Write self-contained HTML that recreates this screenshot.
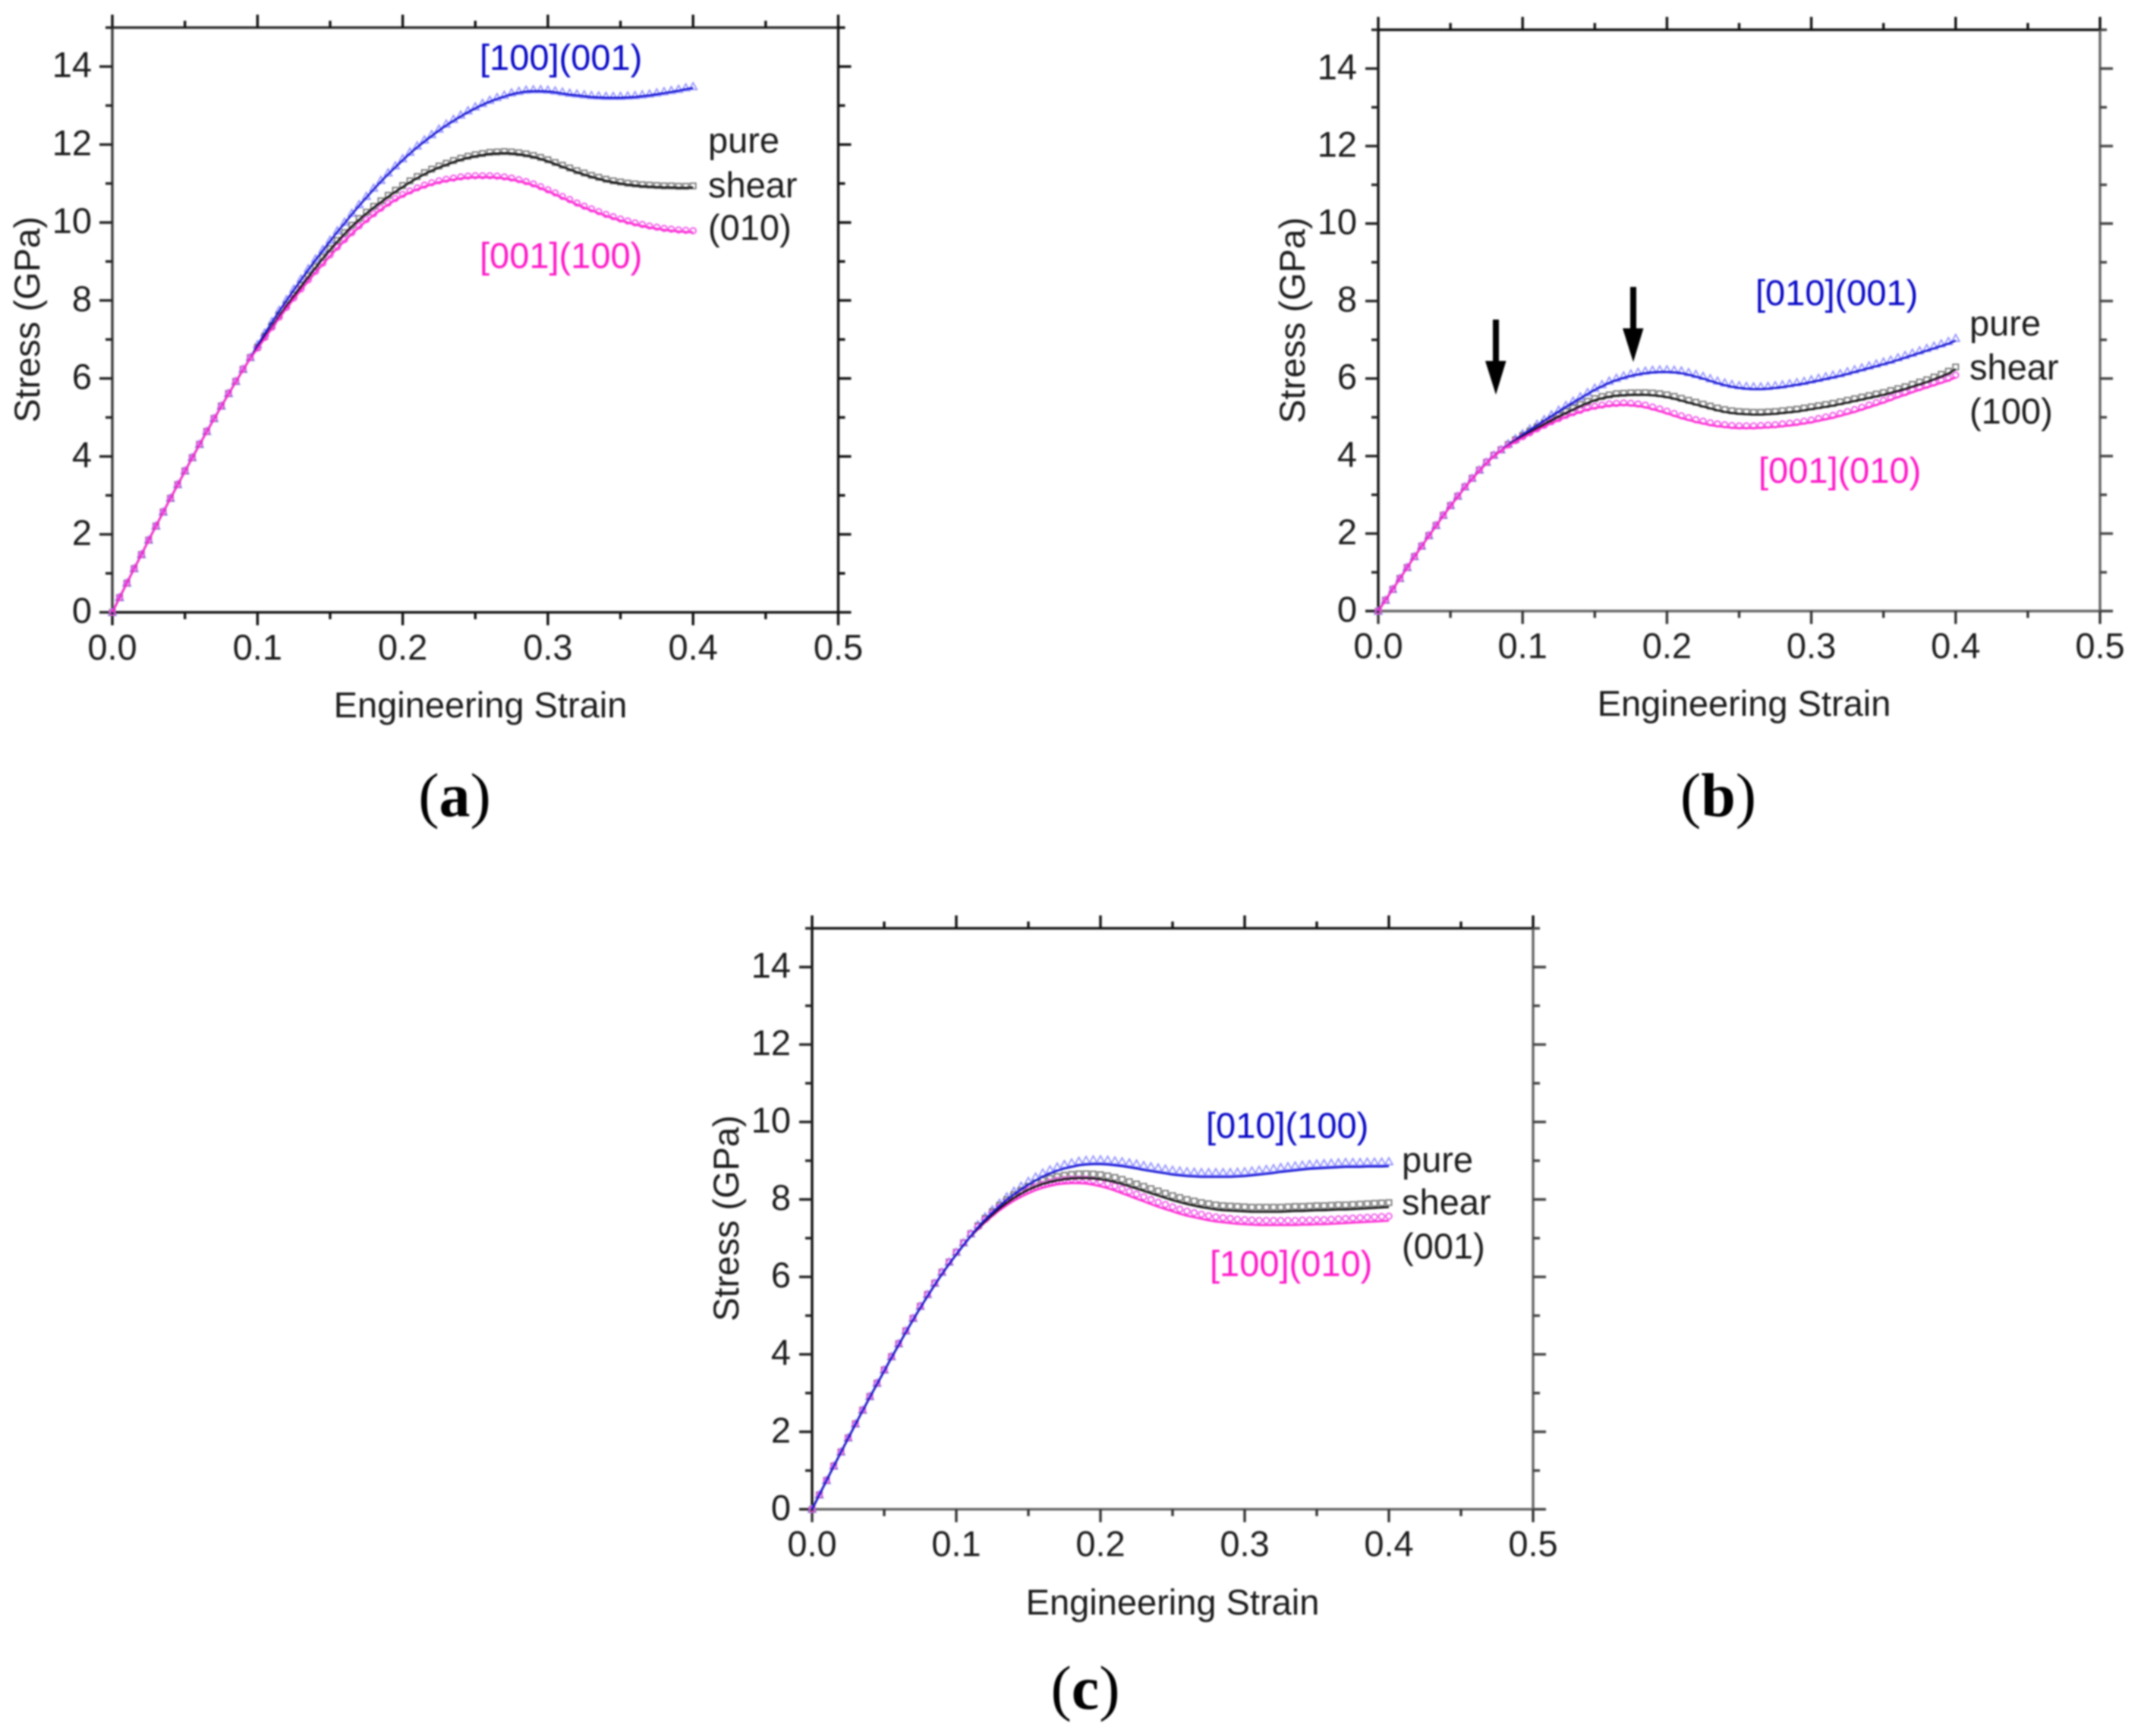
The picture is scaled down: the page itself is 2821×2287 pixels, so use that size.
<!DOCTYPE html>
<html>
<head>
<meta charset="utf-8">
<title>Stress versus engineering strain under pure shear</title>
<style>
html,body{margin:0;padding:0;background:#fff;}
body{width:2821px;height:2287px;overflow:hidden;}
svg{display:block;filter:blur(1px);}
text{font-family:"Liberation Sans",sans-serif;font-size:47px;fill:#1c1c1c;}
.blue{fill:#0808c8;}
.pink{fill:#ff18c8;}
.letter{font-family:"Liberation Serif",serif;font-size:82px;fill:#000;text-anchor:middle;}
.letter tspan{font-weight:bold;}
.mid{text-anchor:middle;}
</style>
</head>
<body>
<svg id="figure" xmlns="http://www.w3.org/2000/svg" width="2821" height="2287" viewBox="0 0 2821 2287">
  <rect width="2821" height="2287" fill="#fff"/>

  <g id="panel-a"></g>
  <g id="panel-b"></g>
  <g id="panel-c"></g>

  <g>
    <text class="mid" x="633" y="945">Engineering Strain</text>
    <text class="mid" transform="translate(52 421) rotate(-90)">Stress (GPa)</text>
    <text class="blue" x="632" y="92">[100](001)</text>
    <text class="pink" x="632" y="353">[001](100)</text>
    <text x="933" y="201">pure</text>
    <text x="933" y="260">shear</text>
    <text x="933" y="316">(010)</text>
    <text class="letter" x="599" y="1075">(<tspan>a</tspan>)</text>
  </g>

  <g>
    <text class="mid" x="2298" y="943">Engineering Strain</text>
    <text class="mid" transform="translate(1719 422) rotate(-90)">Stress (GPa)</text>
    <text class="blue" x="2313" y="402">[010](001)</text>
    <text class="pink" x="2317" y="636">[001](010)</text>
    <text x="2595" y="442">pure</text>
    <text x="2595" y="500">shear</text>
    <text x="2595" y="558">(100)</text>
    <text class="letter" x="2264" y="1075">(<tspan>b</tspan>)</text>
    <g>
      <rect x="1967" y="421" width="8" height="56" fill="#000"/>
      <polygon points="1957,475.5 1984.5,475.5 1971,520" fill="#000"/>
    </g>
    <g>
      <rect x="2148" y="378" width="8" height="56" fill="#000"/>
      <polygon points="2138,432.5 2165.5,432.5 2152,477" fill="#000"/>
    </g>
  </g>

  <g>
    <text class="mid" x="1545" y="2127">Engineering Strain</text>
    <text class="mid" transform="translate(973 1605) rotate(-90)">Stress (GPa)</text>
    <text class="blue" x="1589" y="1499">[010](100)</text>
    <text class="pink" x="1594" y="1681">[100](010)</text>
    <text x="1847" y="1544">pure</text>
    <text x="1847" y="1600">shear</text>
    <text x="1847" y="1658">(001)</text>
    <text class="letter" x="1430" y="2251">(<tspan>c</tspan>)</text>
  </g>
</svg>

<script>
const strainStep = 0.005;
const xMajorTicks = [0, 0.1, 0.2, 0.3, 0.4, 0.5];
const xMinorTicks = [0.05, 0.15, 0.25, 0.35, 0.45];
const xTickLabels = ['0.0', '0.1', '0.2', '0.3', '0.4', '0.5'];
const yMajorTicks = [0, 2, 4, 6, 8, 10, 12, 14];
const yMinorTicks = [1, 3, 5, 7, 9, 11, 13, 15];
const yTickLabels = ['0', '2', '4', '6', '8', '10', '12', '14'];

const aBlue = [0,.38,.75,1.12,1.48,1.85,2.21,2.57,2.92,3.27,3.62,3.96,4.3,4.63,4.96,5.28,5.6,5.91,6.22,6.52,
6.85,7.15,7.44,7.73,8.0,8.27,8.53,8.79,9.04,9.28,9.52,9.76,9.98,10.21,10.43,10.64,10.85,11.05,11.24,11.42,11.6,11.77,11.93,12.08,12.22,12.36,12.49,12.61,12.72,12.83,12.93,13.02,13.1,13.17,13.23,13.29,13.33,13.36,13.37,13.37,13.36,13.34,13.31,13.28,13.26,13.24,13.22,13.21,13.2,13.2,13.2,13.21,13.22,13.24,13.26,13.29,13.32,13.35,13.38,13.42,13.45];
const aBlack = [0,.38,.75,1.12,1.48,1.85,2.21,2.57,2.92,3.27,3.62,3.96,4.3,4.63,4.96,5.28,5.6,5.91,6.22,6.52,
6.78,7.06,7.33,7.6,7.86,8.11,8.36,8.6,8.84,9.08,9.3,9.51,9.71,9.9,10.07,10.23,10.38,10.52,10.66,10.79,10.91,11.03,11.14,11.24,11.33,11.41,11.48,11.55,11.61,11.66,11.7,11.73,11.76,11.77,11.78,11.77,11.75,11.72,11.68,11.63,11.57,11.5,11.43,11.36,11.29,11.23,11.17,11.12,11.07,11.03,11.0,10.97,10.95,10.93,10.92,10.91,10.9,10.9,10.89,10.89,10.9];
const aPink = [0,.38,.75,1.12,1.48,1.85,2.21,2.57,2.92,3.27,3.62,3.96,4.3,4.63,4.96,5.28,5.6,5.91,6.22,6.52,
6.76,7.03,7.29,7.55,7.8,8.04,8.27,8.5,8.72,8.93,9.14,9.34,9.53,9.71,9.88,10.04,10.19,10.33,10.46,10.58,10.68,10.77,10.85,10.92,10.98,11.03,11.07,11.1,11.13,11.15,11.16,11.16,11.16,11.15,11.13,11.1,11.06,11.01,10.95,10.88,10.8,10.72,10.63,10.55,10.46,10.38,10.31,10.24,10.17,10.11,10.05,10.0,9.95,9.91,9.87,9.84,9.81,9.79,9.77,9.76,9.75];

const bBlue = [0,.28,.56,.84,1.12,1.4,1.67,1.94,2.2,2.46,2.71,2.95,3.19,3.41,3.62,3.82,4.0,4.14,
4.29,4.42,4.55,4.67,4.79,4.91,5.03,5.15,5.27,5.38,5.49,5.6,5.71,5.8,5.89,5.96,6.02,6.07,6.11,6.14,6.16,6.17,6.17,6.16,6.14,6.1,6.05,6.0,5.94,5.88,5.83,5.79,5.76,5.74,5.73,5.73,5.74,5.76,5.78,5.81,5.84,5.87,5.91,5.95,5.99,6.03,6.07,6.12,6.17,6.22,6.27,6.32,6.37,6.42,6.48,6.54,6.6,6.66,6.72,6.78,6.84,6.9,6.98];
const bBlack = [0,.28,.56,.84,1.12,1.4,1.67,1.94,2.2,2.46,2.71,2.95,3.19,3.41,3.62,3.82,4.0,4.14,
4.27,4.39,4.5,4.61,4.72,4.82,4.92,5.02,5.11,5.2,5.29,5.37,5.44,5.49,5.53,5.56,5.57,5.58,5.58,5.58,5.57,5.55,5.52,5.48,5.43,5.38,5.33,5.28,5.23,5.18,5.14,5.11,5.09,5.08,5.07,5.07,5.08,5.09,5.11,5.13,5.15,5.18,5.21,5.24,5.27,5.3,5.34,5.38,5.42,5.46,5.5,5.54,5.58,5.63,5.68,5.73,5.79,5.85,5.91,5.98,6.05,6.13,6.24];
const bPink = [0,.28,.56,.84,1.12,1.4,1.67,1.94,2.2,2.46,2.71,2.95,3.19,3.41,3.62,3.82,4.0,4.14,
4.26,4.37,4.47,4.57,4.67,4.76,4.85,4.93,5.01,5.08,5.14,5.2,5.24,5.27,5.3,5.31,5.32,5.31,5.29,5.26,5.21,5.16,5.1,5.04,4.98,4.93,4.88,4.84,4.8,4.77,4.75,4.73,4.72,4.72,4.72,4.73,4.74,4.75,4.77,4.79,4.81,4.84,4.87,4.91,4.95,4.99,5.04,5.09,5.14,5.2,5.26,5.32,5.38,5.45,5.52,5.58,5.65,5.71,5.77,5.83,5.89,5.95,6.03];

const cBlue = [0,.37,.74,1.11,1.47,1.83,2.19,2.54,2.89,3.23,3.57,3.91,4.24,4.57,4.89,5.2,5.5,5.79,6.07,6.33,6.58,6.82,7.05,
7.28,7.48,7.66,7.83,7.99,8.13,8.26,8.38,8.49,8.59,8.67,8.74,8.8,8.84,8.88,8.9,8.91,8.91,8.9,8.88,8.86,8.83,8.8,8.76,8.73,8.7,8.67,8.64,8.62,8.6,8.59,8.58,8.58,8.58,8.58,8.58,8.59,8.6,8.62,8.64,8.66,8.68,8.71,8.73,8.75,8.77,8.79,8.8,8.81,8.82,8.83,8.84,8.84,8.84,8.85,8.85,8.85,8.86];
const cBlack = [0,.37,.74,1.11,1.47,1.83,2.19,2.54,2.89,3.23,3.57,3.91,4.24,4.57,4.89,5.2,5.5,5.79,6.07,6.33,6.58,6.82,7.05,
7.25,7.44,7.61,7.77,7.91,8.04,8.15,8.25,8.33,8.4,8.45,8.49,8.52,8.54,8.55,8.55,8.54,8.52,8.49,8.45,8.4,8.34,8.28,8.22,8.16,8.1,8.04,7.98,7.93,7.88,7.84,7.8,7.77,7.74,7.72,7.71,7.7,7.69,7.68,7.68,7.68,7.68,7.68,7.69,7.7,7.7,7.71,7.72,7.72,7.73,7.74,7.74,7.75,7.76,7.77,7.78,7.79,7.8];
const cPink = [0,.37,.74,1.11,1.47,1.83,2.19,2.54,2.89,3.23,3.57,3.91,4.24,4.57,4.89,5.2,5.5,5.79,6.07,6.33,6.58,6.82,7.05,
7.23,7.41,7.57,7.72,7.85,7.97,8.07,8.16,8.24,8.3,8.35,8.39,8.41,8.42,8.42,8.41,8.38,8.34,8.29,8.23,8.16,8.09,8.02,7.95,7.88,7.81,7.75,7.69,7.63,7.58,7.54,7.5,7.46,7.43,7.41,7.39,7.37,7.36,7.35,7.34,7.34,7.34,7.34,7.34,7.34,7.35,7.35,7.36,7.36,7.37,7.38,7.39,7.4,7.41,7.42,7.43,7.44,7.45];

const SVG_NS = 'http://www.w3.org/2000/svg';
const LINE_COLORS = { blue: '#1414d2', black: '#111111', pink: '#ff28d2' };
const MARKER_COLORS = { blue: '#8c8cff', black: '#707070', pink: '#f050e8' };

const panels = [
  { id: 'a', x0: 148, x5: 1104.5, y0: 806.7, y14: 87.7, lift: 2, labelGap: 27, left: '#3a3a3a', bottom: '#111', right: '#111', top: '#2a2a2a',
    series: { blue: aBlue, black: aBlack, pink: aPink }, lineOrder: ['blue', 'black', 'pink'], xLabelY: 869 },
  { id: 'b', x0: 1816, x5: 2767, y0: 805, y14: 90.3, lift: 3, labelGap: 28, left: '#111', bottom: '#666', right: '#666', top: '#111',
    series: { blue: bBlue, black: bBlack, pink: bPink }, lineOrder: ['blue', 'black', 'pink'], xLabelY: 867 },
  { id: 'c', x0: 1070, x5: 2020, y0: 1988.3, y14: 1274, lift: 6, labelGap: 28, left: '#111', bottom: '#666', right: '#666', top: '#111',
    series: { blue: cBlue, black: cBlack, pink: cPink }, lineOrder: ['pink', 'black', 'blue'], xLabelY: 2050 }
];

function make(tag, attrs, parent) {
  const node = document.createElementNS(SVG_NS, tag);
  for (const key in attrs) node.setAttribute(key, attrs[key]);
  parent.appendChild(node);
  return node;
}

function drawAxes(p, g, sx, sy) {
  const topY = sy(15);
  const frame = [
    [p.x0, p.y0, sx(0.5), p.y0, p.bottom],
    [p.x0, topY, sx(0.5), topY, p.top],
    [p.x0, p.y0, p.x0, topY, p.left],
    [sx(0.5), p.y0, sx(0.5), topY, p.right]
  ];
  frame.forEach(function (f) {
    const axisLine = make('line', { x1: f[0], y1: f[1], x2: f[2], y2: f[3], stroke: f[4], 'stroke-width': 3.4 }, g);
    
    
  });
  [[xMajorTicks, 17], [xMinorTicks, 9]].forEach(function (set) {
    set[0].forEach(function (v) {
      const bottomTick = make('line', { x1: sx(v), y1: p.y0, x2: sx(v), y2: p.y0 + set[1], stroke: p.bottom === '#666' ? '#333' : p.bottom, 'stroke-width': 3.4 }, g);
      
      
      const topTick = make('line', { x1: sx(v), y1: topY, x2: sx(v), y2: topY - set[1], stroke: '#111', 'stroke-width': 3.4 }, g);
      
      
    });
  });
  [[yMajorTicks, 17], [yMinorTicks, 9]].forEach(function (set) {
    set[0].forEach(function (v) {
      const leftTick = make('line', { x1: p.x0, y1: sy(v), x2: p.x0 - set[1], y2: sy(v), stroke: '#222', 'stroke-width': 3.4 }, g);
      
      
      const rightTick = make('line', { x1: sx(0.5), y1: sy(v), x2: sx(0.5) + set[1], y2: sy(v), stroke: p.right === '#666' ? '#444' : '#111', 'stroke-width': 3.4 }, g);
      
      
    });
  });
  xMajorTicks.forEach(function (v, i) {
    const xLabel = make('text', { x: sx(v), y: p.xLabelY, 'text-anchor': 'middle' }, g);
    
    
    xLabel.textContent = xTickLabels[i];
  });
  yMajorTicks.forEach(function (v, i) {
    const yLabel = make('text', { x: p.x0 - p.labelGap, y: sy(v) + 14, 'text-anchor': 'end' }, g);
    
    
    yLabel.textContent = yTickLabels[i];
  });
}

function drawMarker(kind, cx, cy, g) {
  const color = MARKER_COLORS[kind];
  let mark;
  if (kind === 'blue') {
    mark = make('polygon', { points: (cx - 5) + ',' + (cy + 4) + ' ' + (cx + 5) + ',' + (cy + 4) + ' ' + cx + ',' + (cy - 5), fill: 'none', stroke: color, 'stroke-width': 1.7 }, g);
  } else if (kind === 'black') {
    mark = make('rect', { x: cx - 3.6, y: cy - 3.6, width: 7.2, height: 7.2, fill: 'none', stroke: color, 'stroke-width': 1.7 }, g);
  } else {
    mark = make('circle', { cx: cx, cy: cy, r: 3.8, fill: 'none', stroke: color, 'stroke-width': 1.8 }, g);
  }
  
  
}

function drawSeries(p, g, sx, sy) {
  ['blue', 'black', 'pink'].forEach(function (kind) {
    p.series[kind].forEach(function (v, i) {
      const s = i * strainStep;
      const lifted = p.lift * Math.min(1, s / 0.2);
      drawMarker(kind, sx(s), sy(v) - lifted, g);
    });
  });
  p.lineOrder.forEach(function (kind) {
    const d = p.series[kind].map(function (v, i) {
      return (i ? 'L' : 'M') + sx(i * strainStep).toFixed(1) + ' ' + sy(v).toFixed(1);
    }).join(' ');
    const curve = make('path', { d: d, fill: 'none', stroke: LINE_COLORS[kind], 'stroke-width': 2.6, 'stroke-linejoin': 'round' }, g);
    
    
  });
}

panels.forEach(function (p) {
  const g = document.getElementById('panel-' + p.id);
  const sx = function (s) { return p.x0 + (s / 0.5) * (p.x5 - p.x0); };
  const sy = function (v) { return p.y0 - (v / 14) * (p.y0 - p.y14); };
  drawAxes(p, g, sx, sy);
  drawSeries(p, g, sx, sy);
});
</script>
</body>
</html>
